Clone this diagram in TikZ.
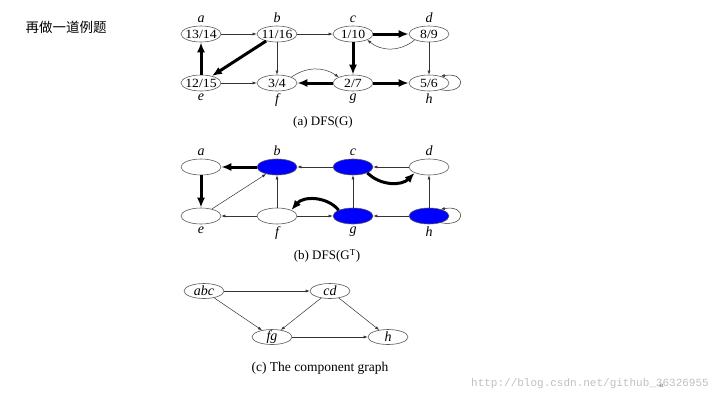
\documentclass[tikz,border=0pt]{standalone}
\usepackage{fontspec}
\setmainfont{Liberation Serif}
\newfontfamily\cjkfont{Noto Sans CJK SC}
\newfontfamily\wmfont{Liberation Mono}
\newfontfamily\widefont[FakeStretch=1.1]{Liberation Serif}
\usetikzlibrary{arrows.meta,shapes.geometric,positioning}
\tikzset{%
  % Specifications for style of nodes:
        vertex/.style = {ellipse, draw=black!65, line width=0.6pt,
                         minimum width=40pt, minimum height=16pt,
                         inner xsep=-8pt, inner ysep=-4pt, fill=white,
                         font=\widefont\fontsize{12.5}{12.5}\selectfont},
     sccVertex/.style = {vertex, fill=blue},
      compNode/.style = {vertex, minimum height=15pt,
                         font=\fontsize{14}{14}\selectfont\itshape},
  % Specifications for style of edges:
       thinArc/.style = {-{Latex[length=4pt,width=3pt]}, line width=0.5pt,
                         draw=black!80},
      thickArc/.style = {-{Latex[length=10pt,width=8pt]}, line width=3pt},
       caption/.style = {font=\fontsize{13}{15}\selectfont},
}
\begin{document}
\begin{tikzpicture}[x=1pt,y=-1pt,node distance=76pt,
    every label/.style={font=\fontsize{14}{14}\selectfont\itshape,
                        inner sep=0pt, label distance=2.5pt}]
  \useasboundingbox (0,0) rectangle (720,405);
  \node (title) at (66,27) [font=\cjkfont\fontsize{13.5}{14}\selectfont] {再做一道例题};
  % (a) DFS of G
  \node (dfsA) at (201,34) [vertex, label=above:a] {13/14};
  \node (dfsB) [vertex, right of=dfsA, label=above:b] {11/16};
  \node (dfsC) [vertex, right of=dfsB, label=above:c] {1/10};
  \node (dfsD) [vertex, right of=dfsC, label=above:d] {8/9};
  \node (dfsE) at (201,83) [vertex, label=below:e] {12/15};
  \node (dfsF) [vertex, right of=dfsE, label=below:f] {3/4};
  \node (dfsG) [vertex, right of=dfsF, label=below:g] {2/7};
  \node (dfsH) [vertex, right of=dfsG, label=below:h] {5/6};
  \node (capA) at (323,122) [caption] {(a) DFS(G)};
  \draw[thinArc]        (dfsA) -- (dfsB);
  \draw[thinArc]        (dfsB) -- (dfsC);
  \draw[thickArc]       (dfsC) -- (dfsD);
  \draw[thinArc] (dfsD.south west) to[bend left=40] (dfsC.south east);
  \draw[thickArc]       (dfsB) -- (dfsE);
  \draw[thickArc]       (dfsE) -- (dfsA);
  \draw[thinArc]        (dfsB) -- (dfsF);
  \draw[thinArc]        (dfsE) -- (dfsF);
  \draw[thinArc] (dfsF.north east) to[bend left=35] (dfsG.north west);
  \draw[thickArc]       (dfsG) -- (dfsF);
  \draw[thickArc]       (dfsC) -- (dfsG);
  \draw[thickArc]       (dfsG) -- (dfsH);
  \draw[thinArc]        (dfsD) -- (dfsH);
  \draw[thinArc] (dfsH.-30) to[out=-10,in=10,looseness=5] (dfsH.30);
  % (b) DFS of the transpose
  \node (trA) at (201,167) [vertex, label=above:a] {};
  \node (trB) [sccVertex, right of=trA, label=above:b] {};
  \node (trC) [sccVertex, right of=trB, label=above:c] {};
  \node (trD) [vertex, right of=trC, label=above:d] {};
  \node (trE) at (201,216) [vertex, label=below:e] {};
  \node (trF) [vertex, right of=trE, label=below:f] {};
  \node (trG) [sccVertex, right of=trF, label=below:g] {};
  \node (trH) [sccVertex, right of=trG, label=below:h] {};
  \node (capB) at (327,256) [caption] {(b) DFS(G\textsuperscript{T})};
  \draw[thickArc]       (trB) -- (trA);
  \draw[thickArc]       (trA) -- (trE);
  \draw[thinArc]        (trE) -- (trB);
  \draw[thinArc]        (trF) -- (trE);
  \draw[thinArc]        (trF) -- (trB);
  \draw[thinArc]        (trC) -- (trB);
  \draw[thinArc]        (trD) -- (trC);
  \draw[thickArc] (trC.south east) to[bend right=45] (trD.south west);
  \draw[thinArc]        (trG) -- (trC);
  \draw[thickArc] (trG.north west) to[bend right=50] (trF.north east);
  \draw[thinArc]        (trF) -- (trG);
  \draw[thinArc]        (trH) -- (trG);
  \draw[thinArc]        (trH) -- (trD);
  \draw[thinArc] (trH.-30) to[out=-10,in=10,looseness=5] (trH.30);
  % (c) component graph
  \node (compAbc) at (204,291) [compNode] {abc};
  \node (compCd)  at (330,291) [compNode] {cd};
  \node (compFg)  at (272,337) [compNode] {fg};
  \node (compH)   at (388,337) [compNode] {h};
  \node (capC) at (320,368) [caption, font=\fontsize{13.5}{15}\selectfont]
                                                      {(c) The component graph};
  \draw[thinArc]    (compAbc) -- (compCd);
  \draw[thinArc]    (compAbc) -- (compFg);
  \draw[thinArc]     (compCd) -- (compFg);
  \draw[thinArc]     (compCd) -- (compH);
  \draw[thinArc]     (compFg) -- (compH);
  % watermark
  \node (mark) at (590,384) [text=black!25, font=\wmfont\fontsize{11}{11}\selectfont]
                                        {http://blog.csdn.net/github\_36326955};
  \node (page) at (661,386) [text=black!60, font=\fontsize{5}{5}\selectfont] {44};
\end{tikzpicture}
\end{document}
